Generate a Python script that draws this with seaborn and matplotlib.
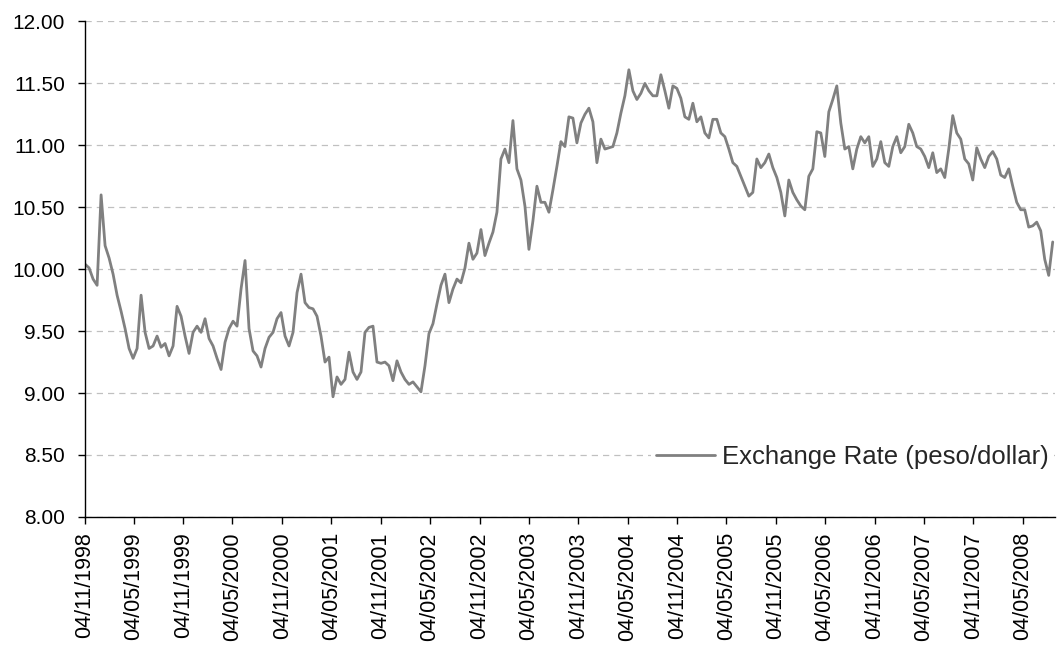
import pandas as pd
import matplotlib
matplotlib.use("Agg")
import matplotlib.pyplot as plt
from matplotlib.ticker import MultipleLocator, FormatStrFormatter
import seaborn as sns

# ==========================================
# data: peso/dollar rate, read off the chart about every two weeks
# ==========================================
start_date = "1998-11-06"
end_date = "2008-08-23"

rate = [
    # Nov 1998 - Nov 1999
    10.04, 10.01, 9.92, 9.87, 10.60, 10.19, 10.09, 9.96, 9.79, 9.66, 9.52, 9.36,
    9.28, 9.36, 9.79, 9.49, 9.36, 9.38, 9.46, 9.37, 9.40, 9.30, 9.38, 9.70,
    9.62, 9.46, 9.32, 9.49, 9.54, 9.49, 9.60, 9.44,
    # 2000
    9.38, 9.28, 9.19, 9.41, 9.52, 9.58, 9.54, 9.84, 10.07, 9.52, 9.34, 9.30,
    9.21, 9.36, 9.45, 9.49, 9.60, 9.65, 9.46, 9.38, 9.49, 9.81, 9.96, 9.73,
    9.69, 9.68, 9.62, 9.46, 9.25,
    # 2001 - mid 2002
    9.29, 8.97, 9.13, 9.07, 9.11, 9.33, 9.17, 9.11, 9.17, 9.49, 9.53, 9.54,
    9.25, 9.24, 9.25, 9.22, 9.10, 9.26, 9.17, 9.11, 9.07, 9.09, 9.05, 9.01,
    9.22, 9.48, 9.56, 9.72, 9.87, 9.96, 9.73,
    # mid 2002 - 2003
    9.84, 9.92, 9.89, 10.01, 10.21, 10.08, 10.13, 10.32, 10.11, 10.21, 10.30, 10.46,
    10.89, 10.97, 10.86, 11.20, 10.81, 10.72, 10.51, 10.16, 10.39, 10.67, 10.54, 10.54,
    10.46, 10.64, 10.83, 11.03, 10.99, 11.23,
    # end 2003 - 2004
    11.22, 11.02, 11.18, 11.25, 11.30, 11.19, 10.86, 11.05, 10.97, 10.98, 10.99, 11.10,
    11.26, 11.40, 11.61, 11.44, 11.37, 11.42, 11.50, 11.44, 11.40, 11.40, 11.57, 11.44,
    11.30, 11.48, 11.46, 11.38, 11.23, 11.21,
    # 2005
    11.34, 11.19, 11.23, 11.10, 11.06, 11.21, 11.21, 11.10, 11.07, 10.97, 10.86, 10.83,
    10.75, 10.67, 10.59, 10.62, 10.89, 10.82, 10.86, 10.93, 10.82, 10.74, 10.62, 10.43,
    10.72, 10.62, 10.56, 10.51, 10.48, 10.75,
    # 2006 - 2007
    10.81, 11.11, 11.10, 10.91, 11.27, 11.37, 11.48, 11.18, 10.97, 10.99, 10.81, 10.97,
    11.07, 11.02, 11.07, 10.83, 10.89, 11.03, 10.86, 10.83, 10.99, 11.07, 10.94, 10.99,
    11.17, 11.10, 10.99, 10.97, 10.91, 10.82,
    # 2007 - Aug 2008
    10.94, 10.78, 10.81, 10.74, 10.97, 11.24, 11.10, 11.05, 10.89, 10.85, 10.72, 10.98,
    10.89, 10.82, 10.91, 10.95, 10.89, 10.76, 10.74, 10.81, 10.67, 10.54, 10.48, 10.48,
    10.34, 10.35, 10.38, 10.31, 10.08, 9.95, 10.22,
]

tick_labels = [
    "04/11/1998", "04/05/1999", "04/11/1999", "04/05/2000", "04/11/2000",
    "04/05/2001", "04/11/2001", "04/05/2002", "04/11/2002", "04/05/2003",
    "04/11/2003", "04/05/2004", "04/11/2004", "04/05/2005", "04/11/2005",
    "04/05/2006", "04/11/2006", "04/05/2007", "04/11/2007", "04/05/2008",
]

df = pd.DataFrame({
    "date": pd.date_range(start_date, end_date, periods=len(rate)),
    "rate": rate,
})

# ==========================================
# plot
# ==========================================
sns.set_style("white")
plt.rcParams["font.family"] = ["Liberation Sans", "DejaVu Sans"]

fig = plt.figure(figsize=(10.57, 6.51), dpi=100)
ax = fig.add_axes([0.08, 0.206, 0.918, 0.761])

sns.lineplot(data=df, x="date", y="rate", ax=ax, color="#808080",
             linewidth=2.0, label="Exchange Rate (peso/dollar)")

ax.set_ylim(8.0, 12.0)
ax.yaxis.set_major_locator(MultipleLocator(0.5))
ax.yaxis.set_major_formatter(FormatStrFormatter("%.2f"))
ax.grid(axis="y", color="#c0c0c0", linestyle=(0, (5, 4)), linewidth=0.9)
ax.set_axisbelow(True)

ticks = pd.to_datetime(tick_labels, format="%d/%m/%Y")
ax.set_xticks(ticks)
ax.set_xticklabels(tick_labels, rotation=90)
ax.set_xlim(pd.Timestamp("1998-11-04"), pd.Timestamp("2008-08-31"))

ax.set_xlabel("")
ax.set_ylabel("")
for side in ["top", "right"]:
    ax.spines[side].set_visible(False)
for side in ["left", "bottom"]:
    ax.spines[side].set_color("black")
    ax.spines[side].set_linewidth(1.0)
ax.tick_params(axis="y", labelsize=15, colors="black", direction="out",
               length=5, width=1, pad=9, left=True)
ax.tick_params(axis="x", labelsize=15.5, colors="black", direction="out",
               length=5, width=1, pad=6, bottom=True)

leg = ax.legend(loc="center right", bbox_to_anchor=(1.012, 0.12), fontsize=18.5,
                frameon=True, facecolor="white", edgecolor="none", framealpha=1,
                handlelength=2.3, handletextpad=0.25, borderpad=0.2)

fig.savefig("out.png", dpi=100)
